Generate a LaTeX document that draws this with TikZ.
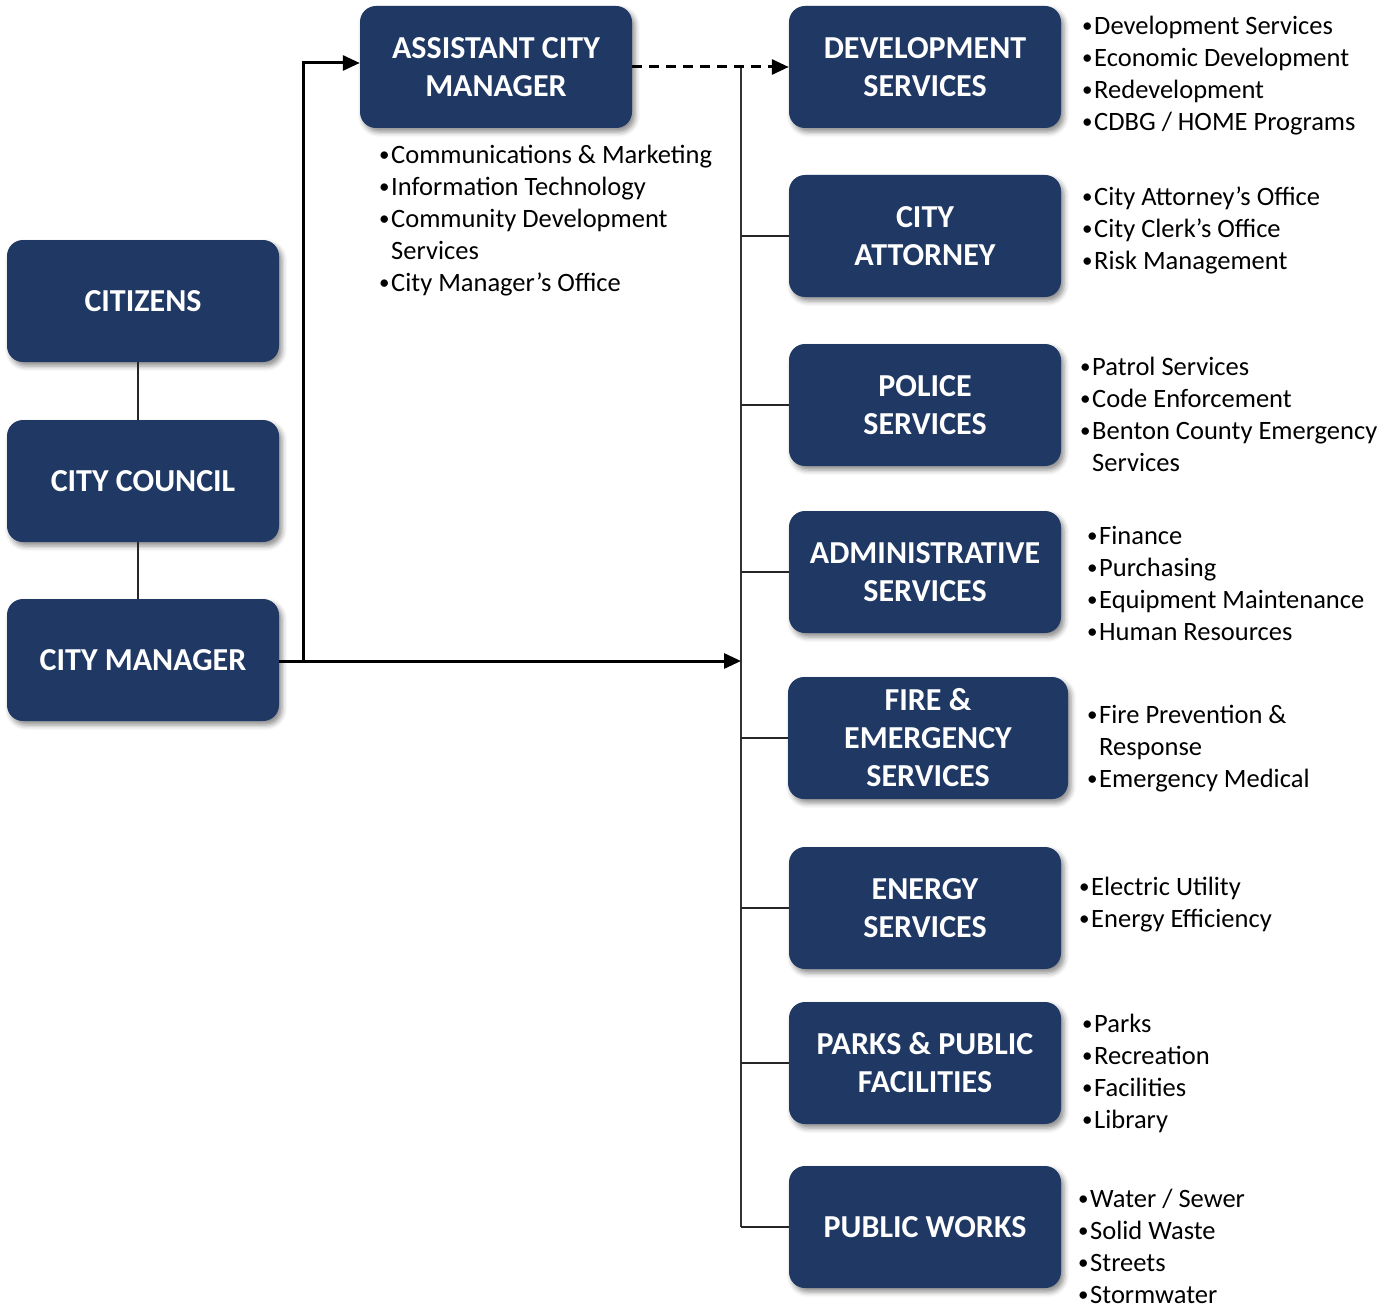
\documentclass[tikz,border=0pt]{standalone}
\usepackage{fontspec}
\setmainfont{Carlito}
\usetikzlibrary{arrows.meta,shadows.blur}
\definecolor{navy}{HTML}{203864}
\newcommand{\bstrut}{\rule[-8.7pt]{0pt}{38pt}}
\newcommand{\lstrut}{\rule[-8pt]{0pt}{32pt}}
\newcommand{\dotb}{\makebox[14pt][l]{\hspace{2pt}\raisebox{2.2pt}{\fontsize{21}{21}\selectfont •}}}
\newcommand{\bl}[1]{\lstrut\dotb#1}
\newcommand{\blx}[1]{\rule{0pt}{24pt}\dotb#1}
\newcommand{\cont}[1]{\lstrut\hspace*{14pt}#1}
\tikzset{
  box/.style={rectangle, rounded corners=16pt, fill=navy, text=white,
    minimum width=272pt, minimum height=122pt, inner sep=0pt, align=center,
    font=\fontsize{32}{38}\selectfont\bfseries,
    blur shadow={shadow xshift=3pt, shadow yshift=-4pt, shadow blur radius=5pt, shadow opacity=45}},
  list/.style={anchor=north west, inner sep=0pt, align=left, text=black,
    font=\fontsize{26.5}{32}\selectfont},
  main/.style={line width=3pt, -{Triangle[length=17pt,width=15pt]}},
  trunk/.style={line width=1.6pt, draw=black!80},
  tick/.style={line width=1.3pt, draw=black!85},
  link/.style={line width=1.3pt, draw=black!85},
}
\begin{document}
\begin{tikzpicture}[x=1pt,y=-1pt]
\useasboundingbox (0,0) rectangle (1392,1308);
% boxes
\node[box] (cit) at (143,301) {\bstrut CITIZENS};
\node[box] (cc) at (143,481) {\bstrut CITY COUNCIL};
\node[box] (cm) at (143,660) {\bstrut CITY MANAGER};
\node[box] (acm) at (496,67) {\bstrut ASSISTANT CITY\\\bstrut MANAGER};
\node[box] (dev) at (925,67) {\bstrut DEVELOPMENT\\\bstrut SERVICES};
\node[box] (att) at (925,236) {\bstrut CITY\\\bstrut ATTORNEY};
\node[box] (pol) at (925,405) {\bstrut POLICE\\\bstrut SERVICES};
\node[box] (adm) at (925,572) {\bstrut ADMINISTRATIVE\\\bstrut SERVICES};
\node[box, minimum width=280pt] (fire) at (928,738) {\bstrut FIRE \&\\\bstrut EMERGENCY\\\bstrut SERVICES};
\node[box] (ene) at (925,908) {\bstrut ENERGY\\\bstrut SERVICES};
\node[box] (park) at (925,1063) {\bstrut PARKS \& PUBLIC\\\bstrut FACILITIES};
\node[box] (pw) at (925,1227) {\bstrut PUBLIC WORKS};
% lists
\node[list] (lacm) at (377,139.5) {\bl{Communications \& Marketing}\\\bl{Information Technology}\\\bl{Community Development}\\\cont{Services}\\\bl{City Manager’s Office}};
\node[list] (ldev) at (1080,10.5) {\bl{Development Services}\\\bl{Economic Development}\\\bl{Redevelopment}\\\bl{CDBG / HOME Programs}};
\node[list] (latt) at (1080,181.5) {\bl{City Attorney’s Office}\\\bl{City Clerk’s Office}\\\bl{Risk Management}};
\node[list] (lpol) at (1078,351.5) {\bl{Patrol Services}\\\bl{Code Enforcement}\\\bl{Benton County Emergency}\\\cont{Services}};
\node[list] (ladm) at (1085,520.5) {\bl{Finance}\\\bl{Purchasing}\\\bl{Equipment Maintenance}\\\bl{Human Resources}};
\node[list] (lfire) at (1085,699.5) {\bl{Fire Prevention \&}\\\cont{Response}\\\bl{Emergency Medical}};
\node[list] (lene) at (1077,871.5) {\bl{Electric Utility}\\\bl{Energy Efficiency}};
\node[list] (lpark) at (1080,1008.5) {\bl{Parks}\\\bl{Recreation}\\\bl{Facilities}\\\bl{Library}};
\node[list] (lpw) at (1076,1183.5) {\bl{Water / Sewer}\\\bl{Solid Waste}\\\bl{Streets}\\\blx{Stormwater}};
% coordinates
\coordinate (j1) at (303,661);
\coordinate (tr) at (741,661);
\coordinate (ttop) at (741,67);
\coordinate (tbot) at (741,1227);
% connectors
\draw[link] ([xshift=-5pt]cit.south) -- ([xshift=-5pt]cc.north);
\draw[link] ([xshift=-5pt]cc.south) -- ([xshift=-5pt]cm.north);
\draw[trunk] (ttop) -- (tbot);
\foreach \n in {att,pol,adm,fire,ene,park,pw}{\draw[tick] (\n.west -| ttop) -- (\n.west);}
\draw[main] (cm.east |- tr) -- (tr);
\draw[main] (j1) -- ([yshift=4pt]acm.west -| j1) -- ([yshift=4pt]acm.west);
\draw[main, dash pattern=on 10pt off 7pt] (acm.east) -- (dev.west);
\end{tikzpicture}
\end{document}
